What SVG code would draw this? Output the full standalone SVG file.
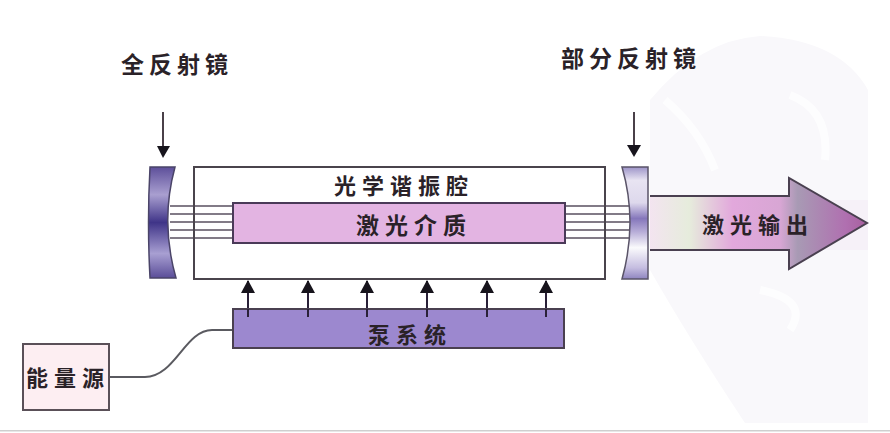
<svg xmlns="http://www.w3.org/2000/svg" width="890" height="433" viewBox="0 0 890 433">
  <style>
    text { font-family: "Noto Sans CJK SC", "Liberation Sans", sans-serif; font-weight: 700; fill: #2a2228; text-anchor: middle; }
    .label { font-size: 23px; letter-spacing: 5px; }
    .inner { font-size: 22px; letter-spacing: 6px; }
    .wide { font-size: 23px; letter-spacing: 6px; }
    .frame { fill: none; stroke: #4a444c; stroke-width: 2; }
    .beam { fill: none; stroke: #5a5060; stroke-width: 1.6; }
    .pump { fill: none; stroke: #2a2038; stroke-width: 2; }
    .edge { stroke: #4a4048; stroke-width: 2; }
  </style>
  <defs>
    <linearGradient id="mirrorFull" x1="0" y1="0" x2="0" y2="1">
      <stop offset="0" stop-color="#5d4f9a"/>
      <stop offset="0.25" stop-color="#a99fd0"/>
      <stop offset="0.5" stop-color="#3f3488"/>
      <stop offset="0.78" stop-color="#a89fd2"/>
      <stop offset="1" stop-color="#5a4d98"/>
    </linearGradient>
    <linearGradient id="mirrorPart" x1="0" y1="0" x2="0" y2="1">
      <stop offset="0" stop-color="#9d94c8"/>
      <stop offset="0.12" stop-color="#e8e4f2"/>
      <stop offset="0.32" stop-color="#ddd8ec"/>
      <stop offset="0.46" stop-color="#8577bb"/>
      <stop offset="0.58" stop-color="#b8aed8"/>
      <stop offset="0.72" stop-color="#fafafc"/>
      <stop offset="0.9" stop-color="#c5bde0"/>
      <stop offset="1" stop-color="#8f85c0"/>
    </linearGradient>
    <linearGradient id="beamFill" gradientUnits="userSpaceOnUse" x1="650" y1="0" x2="867" y2="0">
      <stop offset="0" stop-color="#f3e4f0"/>
      <stop offset="0.18" stop-color="#e6ecdc"/>
      <stop offset="0.38" stop-color="#e2a8dc"/>
      <stop offset="0.6" stop-color="#d8a6d4"/>
      <stop offset="0.68" stop-color="#a89ab4"/>
      <stop offset="0.9" stop-color="#b070b0"/>
      <stop offset="1" stop-color="#a8609f"/>
    </linearGradient>
    <marker id="tri" viewBox="0 0 14 14" refX="12" refY="7" markerWidth="14" markerHeight="14" markerUnits="userSpaceOnUse" orient="auto">
      <path d="M0 0 L13 7 L0 14 Z" fill="#17141c"/>
    </marker>
  </defs>

  <rect width="890" height="433" fill="#fff"/>

  <!-- pale backdrop behind the output side -->
  <g id="backdrop">
    <path d="M650 100 Q700 40 760 36 Q840 40 868 90 L868 423 L745 423 Q690 340 650 270 Z" fill="#f9f8fb"/>
    <path d="M665 100 Q700 130 715 170 M790 95 Q830 110 825 160 M760 290 Q810 300 790 330" fill="none" stroke="#fff" stroke-width="8" opacity="0.7"/>
    <path d="M670 200 H868 V250 H670 Z" fill="#f4ecf6" opacity="0.6"/>
    <rect x="0" y="430" width="890" height="1.5" fill="#cfcfcf"/>
  </g>

  <g id="connectors">
    <path class="edge" fill="none" d="M163 112 V150"/>
    <path d="M157 146 H170 L163 158 Z" fill="#17141c"/>
    <path class="edge" fill="none" d="M634 112 V150"/>
    <path d="M627 145 H641 L634 157 Z" fill="#17141c"/>
    <path class="beam" d="M170 206 H233 M170 214 H233 M170 222 H233 M170 230 H233 M170 238 H233"/>
    <path class="beam" d="M565 206 H630 M565 214 H630 M565 222 H630 M565 230 H630 M565 238 H630"/>
    <path class="pump" marker-end="url(#tri)" d="M248 317 V281"/>
    <path class="pump" marker-end="url(#tri)" d="M308 317 V281"/>
    <path class="pump" marker-end="url(#tri)" d="M367 317 V281"/>
    <path class="pump" marker-end="url(#tri)" d="M427 317 V281"/>
    <path class="pump" marker-end="url(#tri)" d="M487 317 V281"/>
    <path class="pump" marker-end="url(#tri)" d="M546 317 V281"/>
    <path d="M110 377 H145 C175 377 185 330 212 330 H233" fill="none" stroke="#5a5a60" stroke-width="2"/>
  </g>

  <g id="full-mirror">
    <path d="M150 167 H175 Q160 222 176 278 H150 Q147 222 150 167 Z" fill="url(#mirrorFull)" stroke="#4a4468" stroke-width="1.5"/>
  </g>
  <text class="label" x="177" y="73">全反射镜</text>

  <g id="cavity">
    <rect class="frame" x="194" y="167" width="411" height="112"/>
    <text class="inner" x="404" y="194">光学谐振腔</text>
  </g>

  <g id="medium">
    <rect x="233" y="203" width="332" height="40" fill="#e3b4e2" stroke="#4a3a58" stroke-width="2"/>
    <text class="wide" x="414" y="234">激光介质</text>
  </g>

  <g id="partial-mirror">
    <path d="M622 167 H648 V279 H622 Q638 222 622 167 Z" fill="url(#mirrorPart)" stroke="#5a5468" stroke-width="1.5"/>
  </g>
  <text class="label" x="631" y="67">部分反射镜</text>

  <g id="output">
    <path d="M650 196 H789 V178 L867 223 L789 269 V250 H650" fill="url(#beamFill)" stroke="#4a4050" stroke-width="2"/>
    <text class="inner" x="758" y="233">激光输出</text>
  </g>

  <g id="pump">
    <rect x="233" y="309" width="331" height="39" fill="#9c88cf" stroke="#4a4050" stroke-width="2"/>
    <path class="pump" d="M248 309 V317 M308 309 V317 M367 309 V317 M427 309 V317 M487 309 V317 M546 309 V317"/>
    <text class="inner" x="410" y="343">泵系统</text>
  </g>

  <g id="energy-source">
    <rect x="23" y="344" width="86" height="66" fill="#fdeef2" stroke="#5a5058" stroke-width="2"/>
    <text class="inner" x="68" y="386">能量源</text>
  </g>
</svg>
